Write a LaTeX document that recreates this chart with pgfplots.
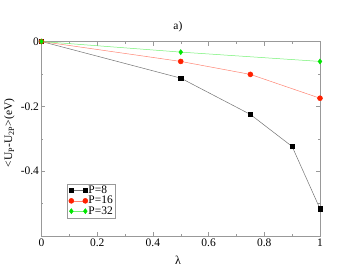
\documentclass[border=0pt]{standalone}
\usepackage{pgfplots}
\pgfplotsset{compat=1.18}
\usepackage{fontspec}
\setmainfont{Liberation Serif}
\definecolor{gred}{RGB}{255,32,0}
\definecolor{ggreen}{RGB}{0,230,0}
\begin{document}
\begin{tikzpicture}[x=1pt,y=1pt]
\path[use as bounding box] (0,0) rectangle (360,278);
\begin{axis}[
  at={(41.5pt,42pt)}, anchor=south west,
  scale only axis, width=278.5pt, height=194.5pt,
  xmin=0, xmax=1, ymin=-0.6, ymax=0,
  xtick={0,0.2,0.4,0.6,0.8,1},
  xticklabels={0,0.2,0.4,0.6,0.8,1},
  minor xtick={0.1,0.3,0.5,0.7,0.9},
  ytick={-0.4,-0.2,0},
  yticklabels={-0.4,-0.2,0},
  minor ytick={-0.5,-0.3,-0.1},
  axis line style={gray!80},
  every tick/.style={gray!80},
  tick align=inside,
  major tick length=4pt, minor tick length=2pt,
  ticklabel style={font=\fontsize{11.5}{12}\selectfont},
  xticklabel style={yshift=1pt},
  yticklabel style={xshift=1pt},
  title={a)},
  title style={font=\fontsize{11.5}{12}\selectfont, at={(axis description cs:0.49,1)}, anchor=south, yshift=0pt},
  xlabel={λ},
  xlabel style={font=\fontsize{12}{12}\selectfont, at={(axis description cs:0.49,-0.085)}, anchor=north},
  ylabel={<U\textsubscript{P}-U\textsubscript{2P}>(eV)},
  ylabel style={font=\fontsize{11.5}{12}\selectfont, at={(axis description cs:-0.115,0.53)}, anchor=center},
  legend style={at={(axis cs:0.092,-0.4385)}, anchor=north west, draw=gray!80, font=\fontsize{11.5}{11.5}\selectfont, inner sep=1.5pt, row sep=0pt, nodes={inner sep=0.6pt}, cells={anchor=west}},
  legend cell align=left,
  legend image code/.code={\draw[#1] plot coordinates {(0pt,0pt) (14pt,0pt)};},
]
\addplot[color=black!55, line width=0.5pt, mark=square*, mark size=2.2pt, mark options={draw=black, fill=black}]
 coordinates {(0,0) (0.5,-0.113) (0.75,-0.225) (0.9,-0.324) (1,-0.516)};
\addlegendentry{P=8}
\addplot[color=gred!55, line width=0.5pt, mark=*, mark size=2.5pt, mark options={draw=gred, fill=gred}]
 coordinates {(0,0) (0.5,-0.0615) (0.75,-0.1015) (1,-0.175)};
\addlegendentry{P=16}
\addplot[color=ggreen!55, line width=0.5pt, mark=diamond*, mark size=2.5pt, mark options={draw=ggreen, fill=ggreen}]
 coordinates {(0,0) (0.5,-0.0327) (1,-0.0615)};
\addlegendentry{P=32}
\end{axis}
\end{tikzpicture}
\end{document}
